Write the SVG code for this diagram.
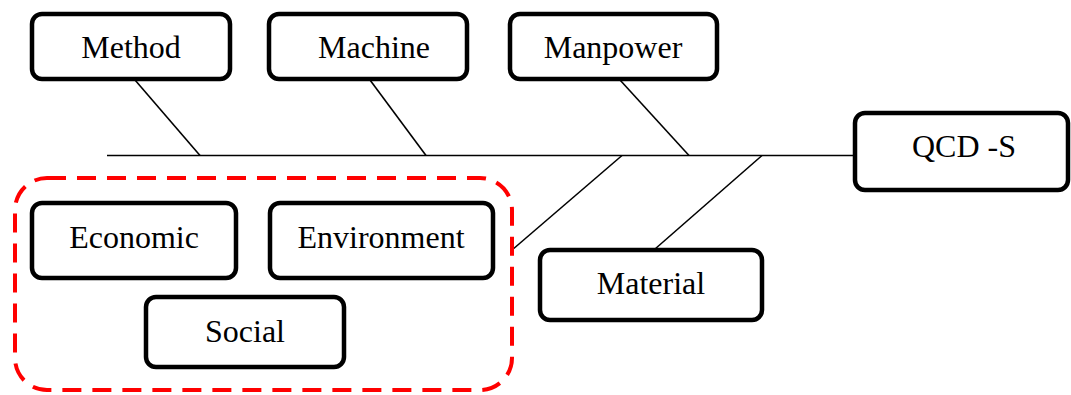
<svg xmlns="http://www.w3.org/2000/svg" width="1071" height="395" viewBox="0 0 1071 395">
<style>
.box{fill:#fff;stroke:#000;stroke-width:4.5}
.lbl{font-family:"Liberation Serif","Times New Roman",serif;font-size:32px;fill:#000;text-anchor:middle}
.ln{stroke:#000;stroke-width:1.6;fill:none}
</style>
<rect width="1071" height="395" fill="#fff"/>
<g id="connectors">
<line class="ln" x1="107" y1="155.5" x2="856" y2="155.5"/>
<line class="ln" x1="135" y1="80" x2="200" y2="155.5"/>
<line class="ln" x1="370" y1="80" x2="426" y2="155.5"/>
<line class="ln" x1="620" y1="80" x2="689" y2="155.5"/>
<line class="ln" x1="622" y1="155.5" x2="512" y2="250"/>
<line class="ln" x1="762" y1="155.5" x2="655" y2="249"/>
</g>
<g id="group-sustainability">
<rect x="15" y="178" width="497" height="212" rx="32" fill="none" stroke="#f00" stroke-width="4" stroke-dasharray="19,11"/>
</g>
<g id="method"><rect class="box" x="32" y="14" width="198" height="65" rx="10"/><text class="lbl" x="131" y="58">Method</text></g>
<g id="machine"><rect class="box" x="269" y="14" width="198" height="65" rx="10"/><text class="lbl" x="374" y="58">Machine</text></g>
<g id="manpower"><rect class="box" x="510" y="14" width="207" height="65" rx="10"/><text class="lbl" x="613" y="58">Manpower</text></g>
<g id="qcds"><rect class="box" x="855" y="113" width="213" height="77" rx="10"/><text class="lbl" x="964" y="157">QCD -S</text></g>
<g id="economic"><rect class="box" x="32" y="203" width="204" height="75" rx="10"/><text class="lbl" x="134" y="248">Economic</text></g>
<g id="environment"><rect class="box" x="270" y="203" width="223" height="75" rx="10"/><text class="lbl" x="381" y="248">Environment</text></g>
<g id="social"><rect class="box" x="146" y="297" width="198" height="70" rx="10"/><text class="lbl" x="245" y="342">Social</text></g>
<g id="material"><rect class="box" x="540" y="250" width="222" height="70" rx="10"/><text class="lbl" x="651" y="294">Material</text></g>
</svg>
